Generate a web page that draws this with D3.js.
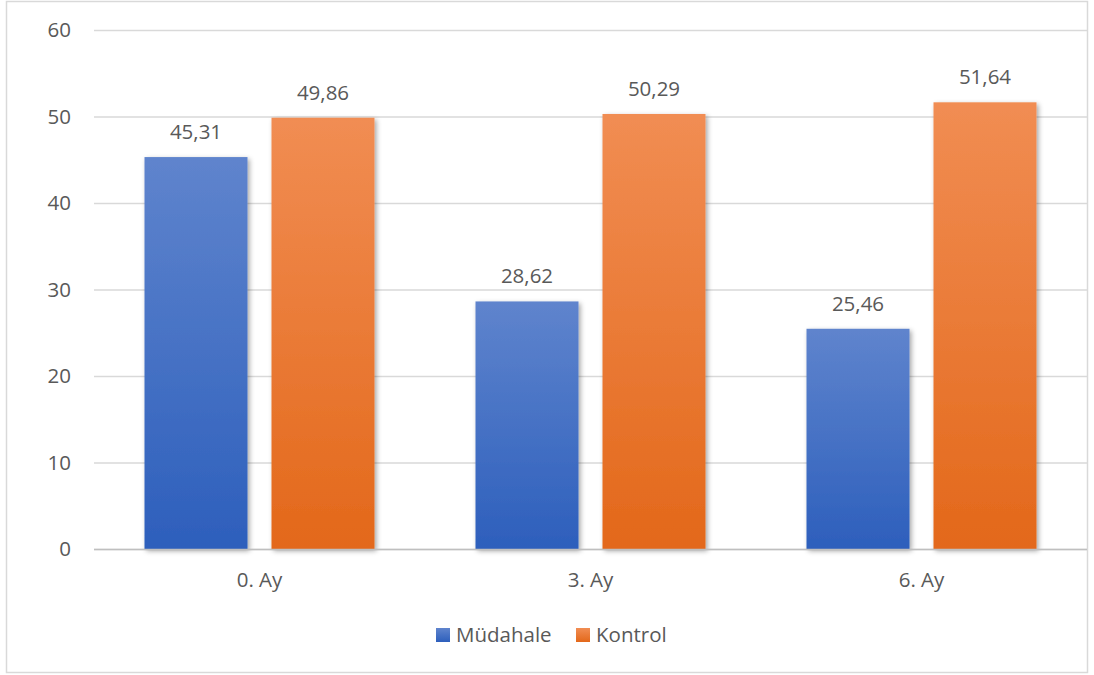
<!DOCTYPE html>
<html><head><meta charset="utf-8">
<script src="https://cdn.jsdelivr.net/npm/d3@7"></script>
<style>body{margin:0;background:#fff}svg{display:block}text{font-family:"Open Sans",sans-serif;fill:#595959}</style>
</head><body><svg id="c" width="1094" height="675"></svg>
<script>
const categories = ["0. Ay", "3. Ay", "6. Ay"];
const seriesNames = ["Müdahale", "Kontrol"];
const mudahale = [45.31, 28.62, 25.46];
const kontrol = [49.86, 50.29, 51.64];
const yTicks = [0, 10, 20, 30, 40, 50, 60];

const svg = d3.select("#c");
const m = {l: 94, r: 1087, t: 30, b: 549};
const FS = "20.5px";

const defs = svg.append("defs");
const grads = [["gBlue", "#5f84cd", "#2d5fbc"], ["gOrange", "#f18d53", "#e3681a"]];
grads.forEach(([id, a, b]) => {
  const g = defs.append("linearGradient").attr("id", id).attr("x1", 0).attr("y1", 0).attr("x2", 0).attr("y2", 1);
  g.append("stop").attr("offset", "0%").attr("stop-color", a);
  g.append("stop").attr("offset", "100%").attr("stop-color", b);
});
const f = defs.append("filter").attr("id", "sh").attr("x", "-10%").attr("y", "-10%").attr("width", "130%").attr("height", "130%");
f.append("feDropShadow").attr("dx", 2).attr("dy", 2).attr("stdDeviation", 2.5).attr("flood-color", "#000").attr("flood-opacity", 0.35);

svg.append("rect").attr("x", 6.5).attr("y", 1.5).attr("width", 1081).attr("height", 671)
  .attr("fill", "#fff").attr("stroke", "#d9d9d9").attr("stroke-width", 1.5);

const y = d3.scaleLinear().domain([0, 60]).range([m.b, m.t]);
const x0 = d3.scaleBand().domain(categories).range([m.l, m.r]).paddingInner(0).paddingOuter(0);
const x1 = d3.scaleBand().domain(seriesNames).range([50.5, 280.5]).paddingInner(0.189).paddingOuter(0);

const yAxis = d3.axisLeft(y).tickValues(yTicks).tickSize(-(m.r - m.l)).tickPadding(23).tickFormat(d3.format("d"));
const ga = svg.append("g").attr("transform", `translate(${m.l},0)`).call(yAxis);
ga.select(".domain").remove();
ga.selectAll(".tick line").attr("stroke", "#d9d9d9").attr("stroke-width", 1.5);
ga.selectAll(".tick text").style("font-size", FS).attr("fill", "#595959");

const data = categories.map((c, i) => ({cat: c, vals: [{s: seriesNames[0], v: mudahale[i]}, {s: seriesNames[1], v: kontrol[i]}]}));
const fills = {"Müdahale": "url(#gBlue)", "Kontrol": "url(#gOrange)"};

const groups = svg.append("g").selectAll("g").data(data).join("g")
  .attr("transform", d => `translate(${x0(d.cat)},0)`);
groups.selectAll("rect").data(d => d.vals).join("rect")
  .attr("x", d => x1(d.s)).attr("width", x1.bandwidth())
  .attr("y", d => y(d.v)).attr("height", d => y(0) - y(d.v))
  .attr("fill", d => fills[d.s]).attr("filter", "url(#sh)");

svg.append("line").attr("x1", m.l).attr("x2", m.r).attr("y1", m.b + 0.5).attr("y2", m.b + 0.5)
  .attr("stroke", "#bfbfbf").attr("stroke-width", 1.5);

groups.selectAll("text.v").data(d => d.vals).join("text").attr("class", "v")
  .attr("x", d => x1(d.s) + x1.bandwidth() / 2).attr("y", d => y(d.v) - 18)
  .attr("text-anchor", "middle").style("font-size", FS)
  .text(d => d3.format(".2f")(d.v).replace(".", ","));

svg.append("g").selectAll("text").data(categories).join("text")
  .attr("x", d => x0(d) + x0.bandwidth() / 2).attr("y", 587)
  .attr("text-anchor", "middle").style("font-size", FS).text(d => d);

const legendColors = ["url(#gBlue)", "url(#gOrange)"];
const lx = [436, 576];
const lg = svg.append("g").selectAll("g").data(seriesNames).join("g")
  .attr("transform", (d, i) => `translate(${lx[i]},628)`);
lg.append("rect").attr("width", 14).attr("height", 14).attr("fill", (d, i) => legendColors[i]);
lg.append("text").attr("x", 20).attr("y", 14).style("font-size", FS).text(d => d);
</script></body></html>
